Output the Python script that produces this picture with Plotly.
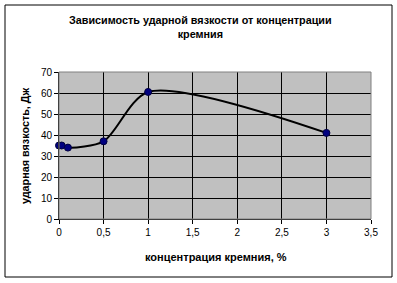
import plotly.graph_objects as go

x_si = [0, 0.03, 0.1, 0.5, 1.0, 3.0]
y_kcu = [35, 35, 34, 37, 60.5, 41]

x_ticks = [0, 0.5, 1, 1.5, 2, 2.5, 3, 3.5]
y_ticks = [0, 10, 20, 30, 40, 50, 60, 70]

title_text = "Зависимость ударной вязкости от концентрации<br>кремния"
x_title = "концентрация кремния, %"
y_title = "ударная вязкость, Дж"

fig = go.Figure()
fig.add_trace(go.Scatter(
    x=x_si, y=y_kcu, mode="lines+markers",
    line=dict(color="black", width=2, shape="spline", smoothing=0.8),
    marker=dict(color="#000080", size=7, line=dict(color="#000040", width=1)),
    cliponaxis=False,
))

L, R, T, B = 59, 26, 72, 64
W, H = 397, 283
pw = W - L - R
ph = H - T - B

def pxx(px):
    return (px - L) / pw

def pxy(py):
    return (H - B - py) / ph

fig.add_shape(type="rect", xref="paper", yref="paper",
              x0=pxx(5), x1=pxx(392), y0=pxy(277), y1=pxy(5),
              line=dict(color="black", width=1), layer="below")

font = "Liberation Sans, Arial, sans-serif"
fig.update_layout(
    width=W, height=H,
    margin=dict(l=L, r=R, t=T, b=B),
    paper_bgcolor="white",
    plot_bgcolor="#C0C0C0",
    separators=", ",
    showlegend=False,
    font=dict(family=font, size=10, color="black"),
    xaxis=dict(range=[0, 3.5], tickvals=x_ticks, showgrid=True, gridcolor="black", gridwidth=1,
               showline=True, linecolor="black", linewidth=1, ticks="outside", ticklen=4,
               tickcolor="black", zeroline=False, automargin=False),
    yaxis=dict(range=[0, 70], tickvals=y_ticks, showgrid=True, gridcolor="black", gridwidth=1,
               showline=True, linecolor="black", linewidth=1, ticks="outside", ticklen=4,
               tickcolor="black", zeroline=False, automargin=False),
    annotations=[
        dict(text="<b>" + title_text + "</b>", xref="paper", yref="paper",
             x=pxx(200), y=pxy(27), xanchor="center", yanchor="middle",
             showarrow=False, font=dict(size=10.8)),
        dict(text="<b>" + x_title + "</b>", xref="paper", yref="paper",
             x=pxx(216), y=pxy(257), xanchor="center", yanchor="middle",
             showarrow=False, font=dict(size=11)),
        dict(text="<b>" + y_title + "</b>", xref="paper", yref="paper",
             x=pxx(25), y=pxy(146), xanchor="center", yanchor="middle",
             textangle=-90, showarrow=False, font=dict(size=10.8)),
    ],
)
fig.add_shape(type="rect", xref="paper", yref="paper", x0=0, x1=1, y0=0, y1=1,
              line=dict(color="#808080", width=1))

fig.write_html("out.html")
